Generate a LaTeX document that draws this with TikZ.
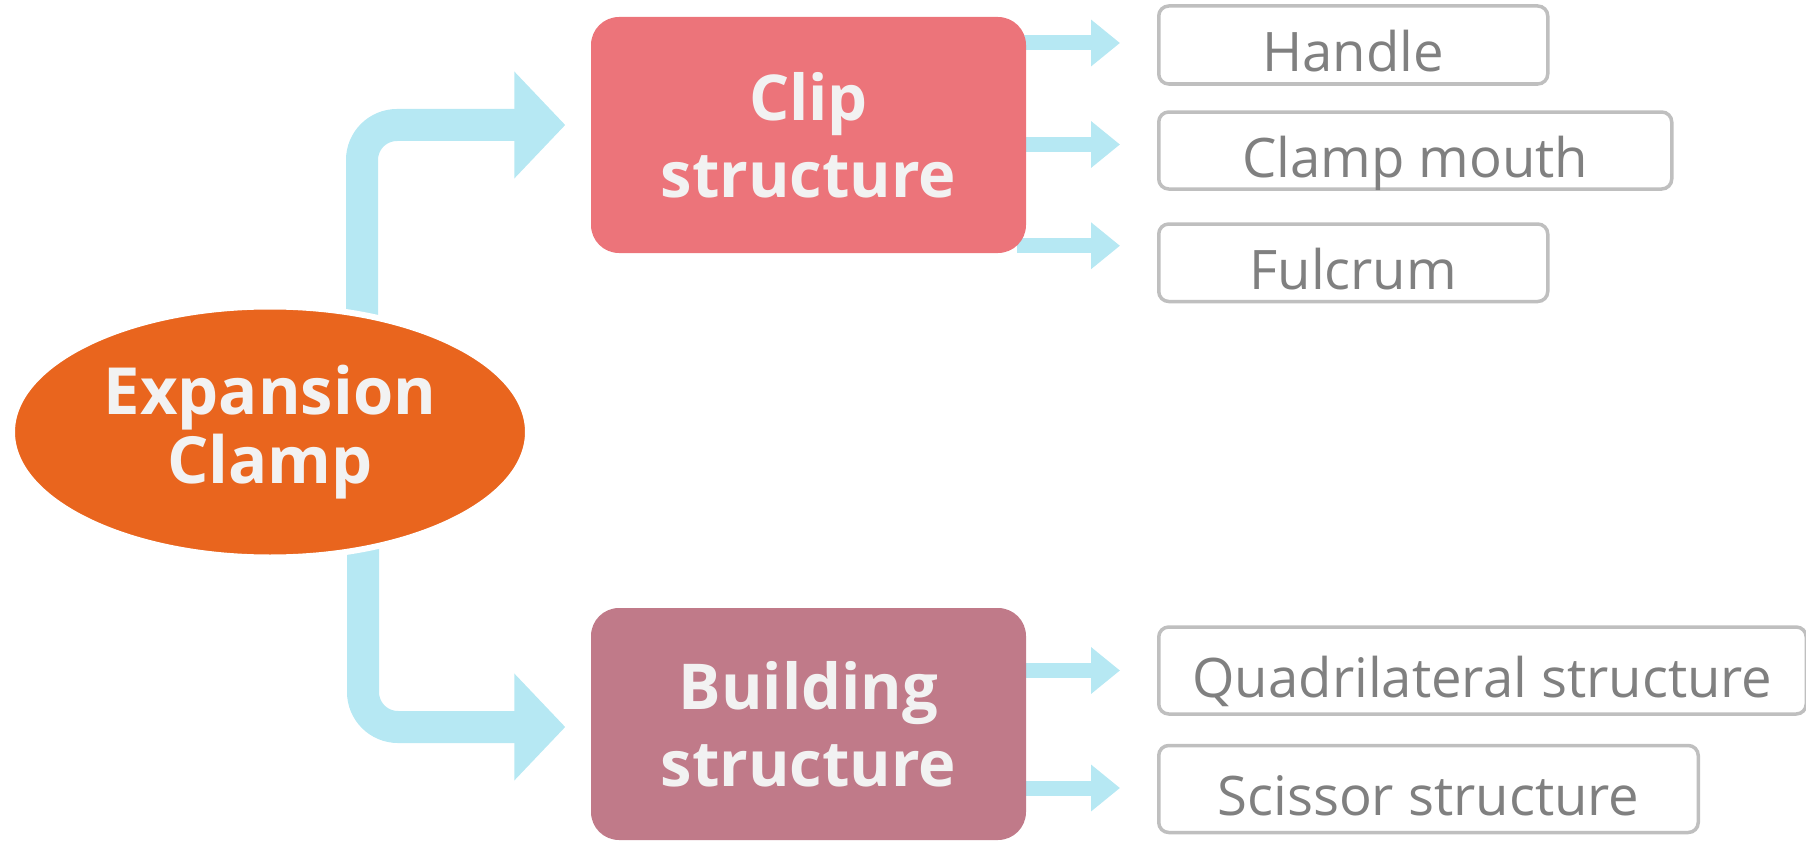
\documentclass[tikz,border=0pt]{standalone}
\usepackage{fontspec}
\setmainfont{Open Sans}
\usetikzlibrary{positioning,arrows.meta,calc,shapes.geometric,backgrounds}
\definecolor{oranz}{RGB}{233,101,30}
\definecolor{ruzova}{RGB}{236,116,122}
\definecolor{vinova}{RGB}{192,122,137}
\definecolor{azur}{RGB}{182,232,243}
\definecolor{ramik}{RGB}{191,191,191}
\definecolor{sedy}{RGB}{128,128,128}
\definecolor{bila}{RGB}{242,242,242}
\tikzset{
  koren/.style={ellipse,draw=white,line width=0.6mm,fill=oranz,minimum width=51.6mm,minimum height=25.1mm,inner sep=0pt,align=center,text=bila,font=\bfseries\fontsize{18.5}{19.8}\selectfont},
  blok/.style={rounded corners=2.8mm,minimum width=43.5mm,inner sep=0pt,align=center,text=bila,font=\bfseries\fontsize{18}{22}\selectfont},
  listek/.style={draw=ramik,line width=0.35mm,rounded corners=1mm,fill=white,inner sep=0pt,text=sedy,font=\fontsize{15.5}{18}\selectfont,text height=6.5mm,text depth=1.2mm},
  velkysip/.style={draw=azur,line width=3.2mm,rounded corners=3.5mm,-{Triangle[length=5.1mm,width=10.4mm]}},
  malysip/.style={draw=azur,line width=1.5mm,-{Triangle[length=2.9mm,width=4.5mm]}},
}
\begin{document}
\begin{tikzpicture}
  \useasboundingbox (0,0) rectangle (18.06,8.42);
  \node[koren] (ec) at (2.70,4.10) {Expansion\\Clamp\rule[-1.2mm]{0pt}{1pt}};
  \node[blok,fill=ruzova,minimum height=23.6mm] (clip) at (8.085,7.07) {Clip\\structure};
  \node[blok,fill=vinova,minimum height=23.2mm] (build) at (8.085,1.18) {Building\\structure};
  \node[listek,anchor=west,minimum width=38.9mm,minimum height=7.8mm] (handle) at (11.57,7.97) {Handle};
  \node[listek,below=2.45mm of handle.south west,anchor=north west,minimum width=51.3mm,minimum height=7.65mm] (mouth) {Clamp mouth};
  \node[listek,below=3.15mm of mouth.south west,anchor=north west,minimum width=38.9mm,minimum height=7.75mm] (fulcrum) {Fulcrum};
  \node[listek,anchor=west,minimum width=64.75mm,minimum height=8.7mm] (quad) at (11.57,1.715) {Quadrilateral structure};
  \node[listek,below=2.8mm of quad.south west,anchor=north west,minimum width=53.95mm,minimum height=8.7mm] (scissor) {Scissor structure};
  \begin{scope}[on background layer]
    \draw[velkysip] ([xshift=9.2mm]ec.center) |- ([xshift=-2.5mm,yshift=1mm]clip.west);
    \draw[velkysip] ([xshift=9.3mm]ec.center) |- ([xshift=-2.5mm,yshift=-0.3mm]build.west);
    \foreach \n/\s in {handle/0.2mm,mouth/0.6mm,fulcrum/1.7mm,quad/0mm,scissor/0.1mm}
      \draw[malysip] ([xshift=-1mm,yshift=\s]\n.west -| clip.east) -- ([xshift=-3.7mm,yshift=\s]\n.west);
  \end{scope}
\end{tikzpicture}
\end{document}
